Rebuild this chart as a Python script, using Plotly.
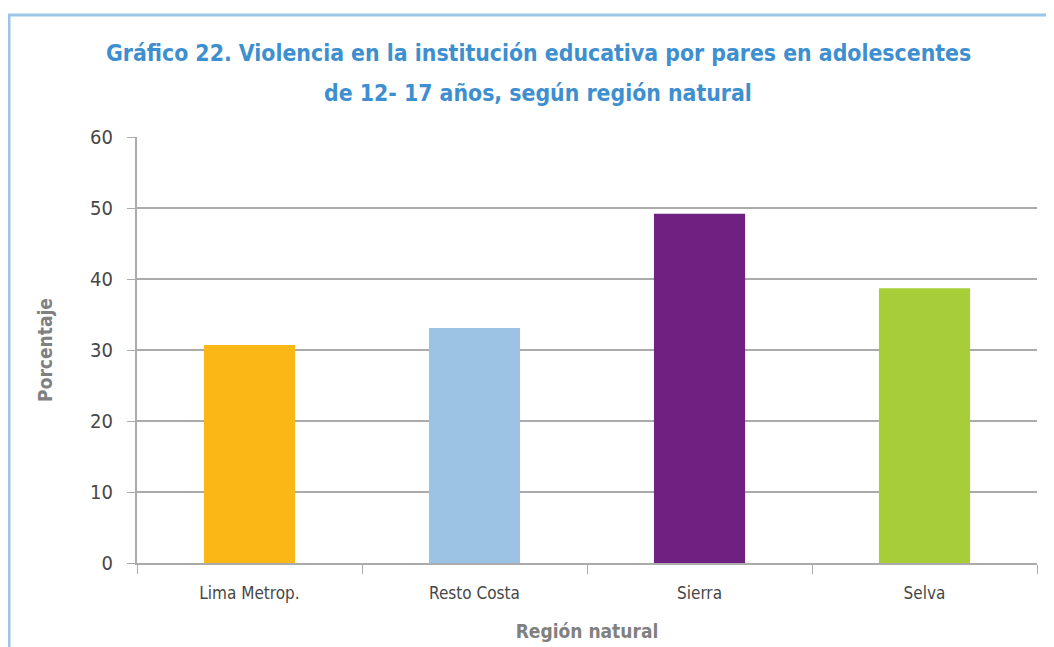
import plotly.graph_objects as go

categories = ["Lima Metrop.", "Resto Costa", "Sierra", "Selva"]
values = [30.7, 33.1, 49.2, 38.7]
colors = ["#FBB715", "#9DC3E4", "#6E2181", "#A7CE39"]
y_ticks = [0, 10, 20, 30, 40, 50, 60]

title_line1 = "Gráfico 22. Violencia en la institución educativa por pares en adolescentes"
title_line2 = "de 12- 17 años, según región natural"

# page offset of the figure inside the html body
OFF = 8
L, T, PW, PH = 137 - OFF, 137 - OFF, 900, 426
W, H = 1054, 647

fig = go.Figure(go.Bar(x=categories, y=values, marker=dict(color=colors, line=dict(width=0)),
                       width=0.405))

grid = "#ABABAB"
FAM = "Liberation Sans Narrow, DejaVu Sans Condensed, Arial Narrow"
fig.update_layout(
    width=W, height=H,
    paper_bgcolor="white", plot_bgcolor="white",
    margin=dict(l=L, r=W - L - PW, t=T, b=H - T - PH),
    showlegend=False,
    font=dict(family=FAM, color="#404040"),
    bargap=0.6,
)

def py(page_y):
    return 1 + (T - (page_y - OFF)) / PH

def px(page_x):
    return ((page_x - OFF) - L) / PW

title_font = dict(family=FAM, size=22.8, color="#3E8FD0", weight="bold")
fig.add_annotation(text=title_line1, xref="paper", yref="paper", x=px(538), y=py(53),
                   xanchor="center", yanchor="middle", showarrow=False, font=title_font)
fig.add_annotation(text=title_line2, xref="paper", yref="paper", x=px(538), y=py(93),
                   xanchor="center", yanchor="middle", showarrow=False, font=title_font)

fig.update_xaxes(
    type="category", tickson="boundaries", ticks="outside", ticklen=9, tickcolor=grid,
    showline=True, linecolor=grid, linewidth=2, showgrid=False,
    ticklabelstandoff=14,
    tickfont=dict(family=FAM, size=17, color="#474747"),
    title=dict(text="Región natural", font=dict(family=FAM, size=19, color="#808080", weight="bold"), standoff=22),
)
fig.update_yaxes(
    range=[0, 60], tickvals=y_ticks, ticks="outside", ticklen=8, tickcolor=grid,
    showgrid=True, gridcolor=grid, gridwidth=1.5, zeroline=False,
    showline=True, linecolor=grid, linewidth=2,
    ticklabelstandoff=10,
    tickfont=dict(family=FAM, size=20, color="#474747"),
    title=dict(text="Porcentaje", font=dict(family=FAM, size=19, color="#808080", weight="bold"), standoff=32),
)
# light blue frame
fig.add_shape(type="rect", xref="paper", yref="paper",
              x0=px(9), x1=1.1, y0=-0.4, y1=py(15),
              line=dict(color="#9CC6E8", width=3), fillcolor="rgba(0,0,0,0)", layer="below")

fig.write_html("out.html")
